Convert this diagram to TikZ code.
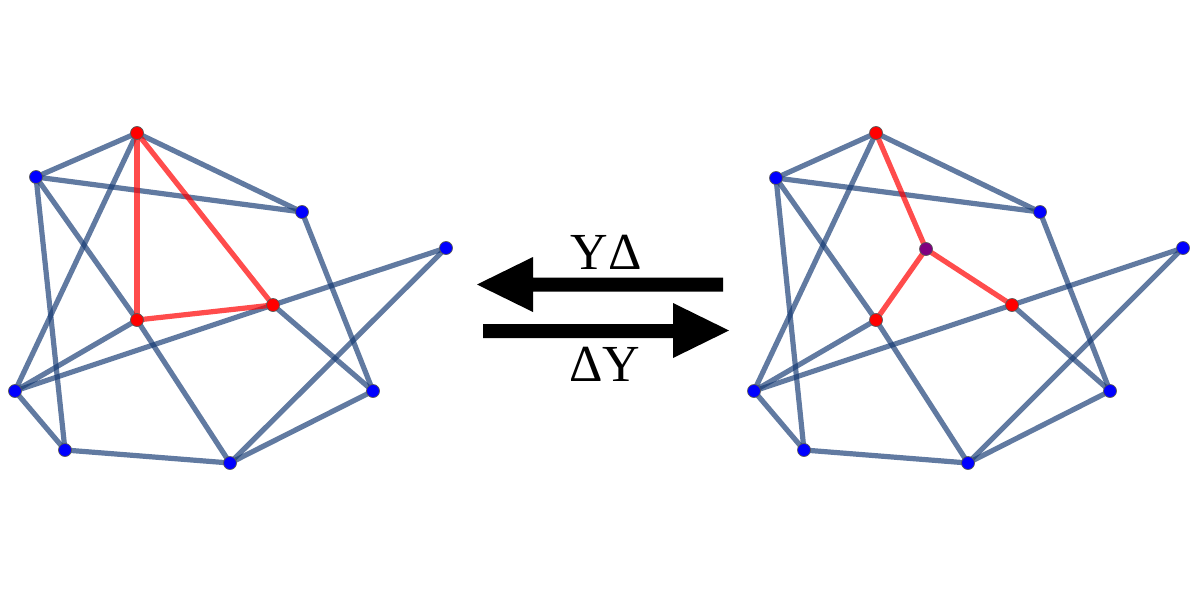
\documentclass[tikz,border=0pt]{standalone}
\usepackage{fontspec}
\setmainfont{Liberation Serif}
\begin{document}
\begin{tikzpicture}[x=1pt,y=-1pt,
  edge/.style={draw={rgb,255:red,22;green,59;blue,116},draw opacity=0.68,line width=5.2pt},
  redge/.style={draw=red,draw opacity=0.7,line width=5.2pt},
  vtx/.style={circle,inner sep=0pt,minimum size=13pt,draw=black!65,line width=0.7pt},
  bv/.style={vtx,fill=blue},
  rv/.style={vtx,fill=red},
  pv/.style={vtx,fill={rgb,255:red,128;green,0;blue,128}},
  bigarrow/.style={fill=black},
  lbl/.style={font=\fontsize{52}{52}\selectfont,inner sep=0pt}]
\useasboundingbox (0,0) rectangle (1200,600);
% left graph vertices (coordinates)
\foreach \n/\x/\y in {A/137/133,B/36/177,C/302/212,D/446/248,E/273/305,F/137/320,G/15/391,H/373/391,I/65/450,J/230/463}
  {\coordinate (L\n) at (\x,\y);}
\foreach \n/\x/\y in {A/876/133,B/776/178,C/1040/212,D/1183/248,E/1012/305,F/876/320,G/754/391,H/1110/391,I/804/450,J/968/463,X/926/249}
  {\coordinate (R\n) at (\x,\y);}
% blue edges
\foreach \s in {L,R}{
  \foreach \a/\b in {A/B,A/C,A/G,B/C,B/I,B/F,F/J,C/H,G/E,E/D,D/J,E/H,F/G,G/I,I/J,H/J}
    {\path[edge] (\s\a) -- (\s\b);}
}
% red edges
\path[redge] (LA) -- (LF);
\path[redge] (LA) -- (LE);
\path[redge] (LE) -- (LF);
\path[redge] (RX) -- (RA);
\path[redge] (RX) -- (RF);
\path[redge] (RX) -- (RE);
% vertices
\foreach \s in {L,R}{
  \foreach \n in {B,C,D,G,H,I,J} {\node[bv] (v\s\n) at (\s\n) {};}
  \foreach \n in {A,E,F} {\node[rv] (v\s\n) at (\s\n) {};}
}
\node[pv] (vRX) at (RX) {};
% arrows
\path[bigarrow] (723,277.5) -- (533,277.5) -- (533,257) -- (477,284.5) -- (533,312) -- (533,291.5) -- (723,291.5) -- cycle;
\path[bigarrow] (483,324) -- (673,324) -- (673,303) -- (729,330.5) -- (673,358) -- (673,338) -- (483,338) -- cycle;
\node[lbl,anchor=base] (yd) at (606,269) {YΔ};
\node[lbl,anchor=base] (dy) at (604.5,381) {ΔY};
\end{tikzpicture}
\end{document}
